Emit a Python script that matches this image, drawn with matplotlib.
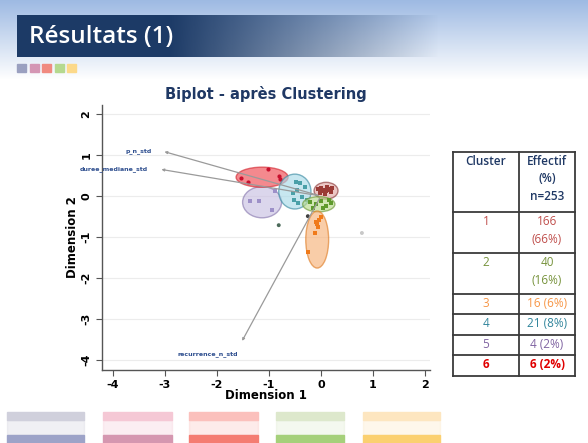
import numpy as np
import matplotlib.pyplot as plt
from matplotlib.patches import Ellipse, Rectangle

# ---- data ----
# cluster points (Dimension 1, Dimension 2)
c1_x = [-0.05, 0.0, 0.05, 0.1, 0.15, 0.2, -0.02, 0.08, 0.18, 0.12, 0.0, 0.22]
c1_y = [0.18, 0.2, 0.15, 0.12, 0.18, 0.1, 0.08, 0.05, 0.14, 0.22, 0.12, 0.2]
c2_x = [-0.2, -0.1, 0.0, 0.1, 0.2, -0.15, 0.05, 0.15]
c2_y = [-0.15, -0.2, -0.12, -0.25, -0.18, -0.3, -0.28, -0.1]
c3_x = [-0.04, -0.08, -0.12, -0.25, 0.0, -0.05, -0.1]
c3_y = [-0.59, -0.68, -0.9, -1.37, -0.5, -0.75, -0.62]
c4_x = [-0.48, -0.40, -0.46, -0.54, -0.37, -0.52, -0.44, -0.31, -0.27]
c4_y = [0.35, 0.32, 0.15, 0.07, -0.02, -0.10, -0.18, 0.23, -0.10]
c5_x = [-1.37, -1.19, -0.94, -0.88]
c5_y = [-0.12, -0.12, -0.34, 0.12]
c6_x = [-1.53, -1.41, -1.01, -0.80, -0.79]
c6_y = [0.44, 0.35, 0.66, 0.50, 0.42]
other_x = [-0.81, -0.25, 0.79]
other_y = [-0.71, -0.49, -0.90]

# cluster ellipses: centre and full axes
ell_cx = [0.10, -0.04, -0.07, -0.50, -1.13, -1.13]
ell_cy = [0.13, -0.20, -1.06, 0.11, -0.15, 0.46]
ell_w = [0.46, 0.62, 0.44, 0.62, 0.75, 1.00]
ell_h = [0.41, 0.37, 1.39, 0.85, 0.76, 0.49]

# variable loadings
var_names = ['p_n_std', 'duree_mediane_std', 'recurrence_n_std']
var_x = [-3.06, -3.12, -1.54]
var_y = [1.10, 0.66, -3.59]

# table
clusters = ['1', '2', '3', '4', '5', '6']
effectifs = ['166\n(66%)', '40\n(16%)', '16 (6%)', '21 (8%)', '4 (2%)', '6 (2%)']

# ---- styles ----
edge_cols = ['#8c3a3a', '#6f9a3a', '#e0802a', '#3d8ca3', '#8a7bb0', '#d42a33']
fill_cols = ['#e2a9a6', '#b9d98e', '#f7b27a', '#a9dbe8', '#c9c0e2', '#ef4a52']
pt_cols = ['#9b3b36', '#5f9a2e', '#f07a1a', '#4aa0a8', '#9d90c8', '#c8102e']
pt_x = [c1_x, c2_x, c3_x, c4_x, c5_x, c6_x]
pt_y = [c1_y, c2_y, c3_y, c4_y, c5_y, c6_y]
markers = ['s', 's', 's', 's', 's', 'o']
txt_cols = ['#c0504d', '#77933c', '#f79646', '#31859c', '#8064a2', '#e00000']

W, H = 588, 443
fig = plt.figure(figsize=(W / 100, H / 100), dpi=100)

# background / slide decoration
bg = fig.add_axes([0, 0, 1, 1], zorder=0)
bg.set_xlim(0, W)
bg.set_ylim(H, 0)
bg.axis('off')

t = np.linspace(0, 1, 80)[:, None]
top = np.array([0.62, 0.73, 0.89])
grad = top[None, None, :] * (1 - t[..., None]) + np.ones(3)[None, None, :] * t[..., None]
grad = np.repeat(grad, 10, axis=1)
bg.imshow(grad, extent=[0, W, 80, 0], aspect='auto', zorder=0)

xs = np.linspace(17, 440, 400)
alpha = np.clip(1 - (xs - 170) / 270, 0, 1)
banner = np.zeros((1, len(xs), 4))
banner[..., 0] = 0.11
banner[..., 1] = 0.23
banner[..., 2] = 0.40
banner[..., 3] = alpha
bg.imshow(banner, extent=[17, 440, 57, 15], aspect='auto', zorder=1)
bg.text(29, 37, 'Résultats (1)', color='white', fontsize=17.5, fontweight='semibold',
        family='Open Sans', va='center', ha='left', zorder=2)

sq_cols = ['#9aa0c0', '#d496b4', '#f08a80', '#b5d98f', '#fcd98a']
for i, c in enumerate(sq_cols):
    bg.add_patch(Rectangle((17 + i * 12.5, 64), 9, 8, color=c, zorder=2))

bar_strong = ['#9da3c8', '#d597b0', '#f47c72', '#a5d07a', '#fbd070']
bar_light = ['#d0d0dc', '#f5c8d5', '#fbc0bc', '#dde8cc', '#fde6c0']
bar_x0 = [7, 103, 189, 276, 363]
bar_x1 = [84, 172, 258, 344, 440]
for i in range(5):
    w = bar_x1[i] - bar_x0[i]
    bg.add_patch(Rectangle((bar_x0[i], 412), w, 8, color=bar_light[i], zorder=2))
    bg.add_patch(Rectangle((bar_x0[i], 420), w, 15, color=bar_light[i], alpha=0.3, zorder=2))
    bg.add_patch(Rectangle((bar_x0[i], 435), w, 8, color=bar_strong[i], zorder=2))

# table
tx0, tx1, tx2 = 453, 519, 575
row_y = [152, 212, 253, 294, 314, 335, 355, 376]
for y in row_y:
    bg.plot([tx0, tx2], [y, y], color='#3a3a3a', lw=1.3, zorder=3)
for x in (tx0, tx1, tx2):
    bg.plot([x, x], [row_y[0], row_y[-1]], color='#3a3a3a', lw=1.3, zorder=3)
bg.add_patch(Rectangle((tx0, row_y[0]), tx2 - tx0, row_y[-1] - row_y[0],
                       color='white', zorder=2))
tfont = dict(family='Open Sans', fontsize=8.5, zorder=4, ha='center', va='top')
bg.text((tx0 + tx1) / 2, 155, 'Cluster', color='#1f3864', fontweight='semibold', **tfont)
bg.text((tx1 + tx2) / 2, 155, 'Effectif\n(%)\nn=253', color='#1f3864',
        fontweight='semibold', linespacing=1.45, **tfont)
for i in range(6):
    y = row_y[i + 1] + 3
    fw = 'bold' if i == 5 else 'normal'
    bg.text((tx0 + tx1) / 2, y, clusters[i], color=txt_cols[i], fontweight=fw, **tfont)
    bg.text((tx1 + tx2) / 2, y, effectifs[i], color=txt_cols[i], fontweight=fw,
            linespacing=1.45, **tfont)

# biplot
ax = fig.add_axes([102 / W, 1 - 370 / H, (430 - 102) / W, (370 - 105) / H], zorder=5)
ax.patch.set_alpha(0)
ax.set_xlim(-4.21, 2.1)
ax.set_ylim(-4.24, 2.22)

for y in range(-4, 3):
    ax.axhline(y, color='#ececec', lw=0.8, zorder=0)

order = [4, 5, 3, 0, 1, 2]
for k, i in enumerate(order):
    ax.add_patch(Ellipse((ell_cx[i], ell_cy[i]), ell_w[i], ell_h[i],
                         facecolor=fill_cols[i], edgecolor=edge_cols[i],
                         alpha=0.65, lw=1.0, zorder=2 + k))
    ax.scatter(pt_x[i], pt_y[i], s=9, marker=markers[i], color=pt_cols[i],
               lw=0, zorder=2 + k)
ax.scatter(other_x, other_y, s=8, color=['#4c6a5a', '#404040', '#c8c8c8'], lw=0, zorder=9)

for i in range(3):
    ax.annotate('', xy=(var_x[i], var_y[i]), xytext=(0, 0),
                arrowprops=dict(arrowstyle='-|>', color='#9a9a9a', lw=0.9,
                                mutation_scale=3.5), zorder=10)
ax.text(var_x[0] - 0.2, var_y[0], var_names[0], fontsize=4.5, color='#2f4f8f',
        fontweight='bold', ha='right', va='center')
ax.text(var_x[1] - 0.2, var_y[1], var_names[1], fontsize=4.5, color='#2f4f8f',
        fontweight='bold', ha='right', va='center')
ax.text(var_x[2] - 0.05, var_y[2] - 0.25, var_names[2], fontsize=4.5, color='#2f4f8f',
        fontweight='bold', ha='right', va='center')

ax.spines['top'].set_visible(False)
ax.spines['right'].set_visible(False)
for s in ('left', 'bottom'):
    ax.spines[s].set_color('#555555')
    ax.spines[s].set_linewidth(1.0)
ax.set_xticks(range(-4, 3))
ax.set_yticks(range(-4, 3))
ax.tick_params(colors='#555555', length=4, width=0.8)
ax.set_xticklabels([str(v) for v in range(-4, 3)], fontsize=8, fontweight='bold', color='black')
ax.set_yticklabels([str(v) for v in range(-4, 3)], fontsize=8, fontweight='bold',
                   color='black', rotation=90, va='center')
ax.set_xlabel('Dimension 1', fontsize=8.5, fontweight='bold', labelpad=-1)
ax.set_ylabel('Dimension 2', fontsize=8.5, fontweight='bold', labelpad=2)
ax.set_title('Biplot - après Clustering', fontsize=10.5, fontweight='bold',
             color='#1f3864', pad=4)

fig.savefig('out.png', dpi=100)
